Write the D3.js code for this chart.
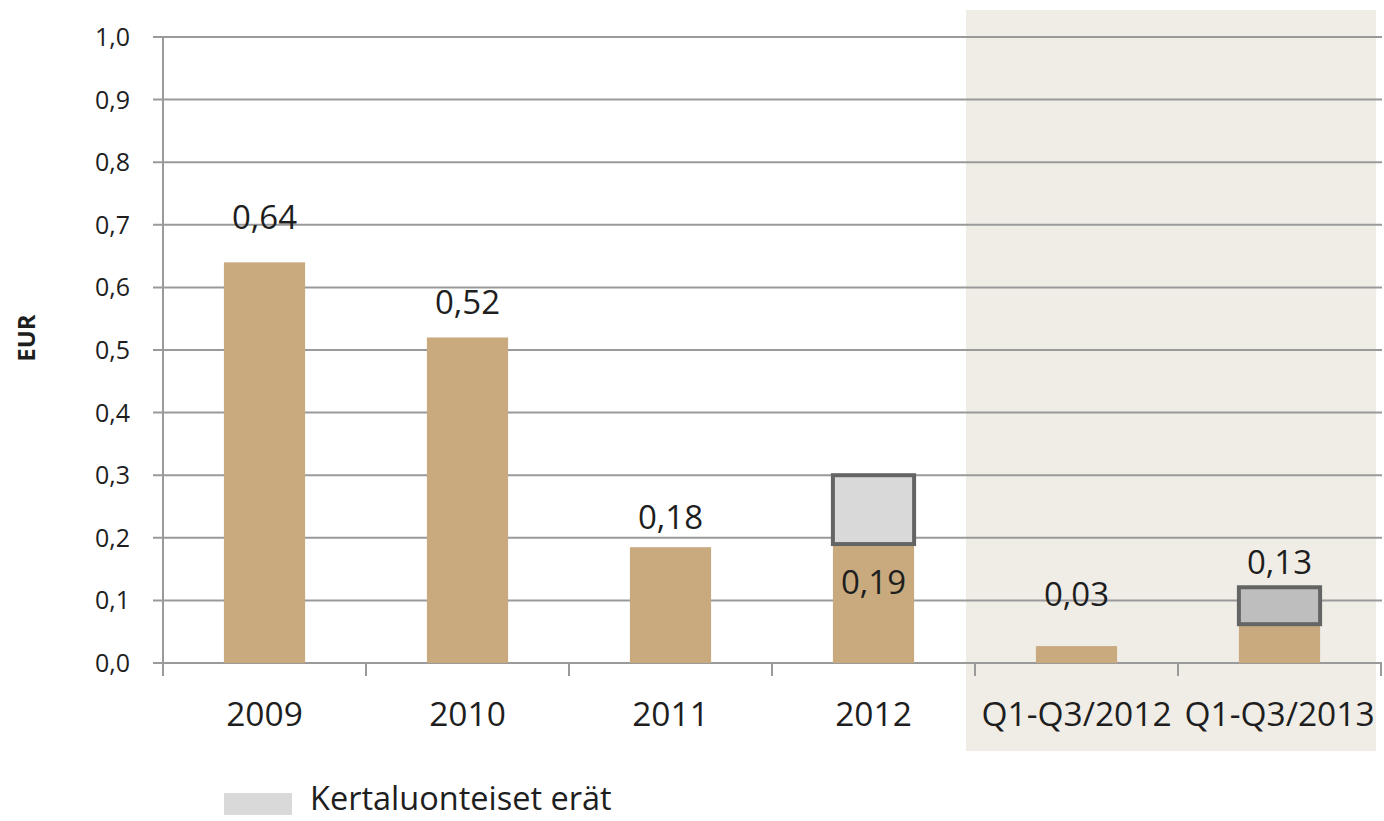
<!DOCTYPE html>
<html>
<head>
<meta charset="utf-8">
<script src="https://cdn.jsdelivr.net/npm/d3@7"></script>
<style>
  body { margin: 0; background: #fff; }
  text { font-family: "Open Sans", sans-serif; fill: #1e1e1e; }
</style>
</head>
<body>
<div id="chart"></div>
<script>
// Data
const categories = ["2009", "2010", "2011", "2012", "Q1-Q3/2012", "Q1-Q3/2013"];
const baseValues = [0.64, 0.52, 0.185, 0.19, 0.027, 0.062];
const oneOffValues = [0, 0, 0, 0.11, 0, 0.059];
const valueLabels = ["0,64", "0,52", "0,18", "0,19", "0,03", "0,13"];
const yTicks = [0, 0.1, 0.2, 0.3, 0.4, 0.5, 0.6, 0.7, 0.8, 0.9, 1.0];
const legendLabel = "Kertaluonteiset erät";

// label placement relative to bar top (px), 2012 sits inside its base bar
const labelGap = [45, 35, 30, null, 52, 25];

const width = 1384, height = 821;
const svg = d3.select("#chart").append("svg")
  .attr("width", width)
  .attr("height", height);

const x = d3.scaleBand()
  .domain(categories)
  .range([163, 1381])
  .paddingInner(0.6)
  .paddingOuter(0.3);

const y = d3.scaleLinear()
  .domain([0, 1])
  .range([663, 37]);

const step = x.step();
const boundary = (i) => x.range()[0] + i * step;

// shaded interim period background
svg.append("rect")
  .attr("x", boundary(4) - 9)
  .attr("y", 10)
  .attr("width", 1376 - (boundary(4) - 9))
  .attr("height", 741)
  .attr("fill", "#f0ede6");

// gridlines + y ticks
const yAxis = svg.append("g");
yAxis.selectAll("line.grid")
  .data(yTicks)
  .join("line")
  .attr("class", "grid")
  .attr("x1", 153)
  .attr("x2", 1382)
  .attr("y1", d => y(d))
  .attr("y2", d => y(d))
  .attr("stroke", "#9a9a9a")
  .attr("stroke-width", 2);

yAxis.selectAll("text")
  .data(yTicks)
  .join("text")
  .attr("x", 130)
  .attr("y", d => y(d))
  .attr("dy", "0.36em")
  .attr("text-anchor", "end")
  .style("font-size", "25px")
  .text(d => d3.format(".1f")(d).replace(".", ","));

// y axis line
svg.append("line")
  .attr("x1", 163).attr("x2", 163)
  .attr("y1", y(1)).attr("y2", 676)
  .attr("stroke", "#9a9a9a")
  .attr("stroke-width", 2);

// x axis ticks at category boundaries
svg.append("g").selectAll("line")
  .data(d3.range(categories.length + 1))
  .join("line")
  .attr("x1", d => boundary(d))
  .attr("x2", d => boundary(d))
  .attr("y1", y(0))
  .attr("y2", 676)
  .attr("stroke", "#9a9a9a")
  .attr("stroke-width", 2);

// base bars
svg.append("g").selectAll("rect")
  .data(categories)
  .join("rect")
  .attr("x", d => x(d))
  .attr("width", x.bandwidth())
  .attr("y", (d, i) => y(baseValues[i]))
  .attr("height", (d, i) => y(0) - y(baseValues[i]))
  .attr("fill", "#c8aa7e");

// one-off items stacked on top
const oneOffFill = ["#d9d9d9", "#d9d9d9", "#d9d9d9", "#d9d9d9", "#d9d9d9", "#bebebe"];
svg.append("g").selectAll("rect")
  .data(categories.filter((d, i) => oneOffValues[i] > 0))
  .join("rect")
  .attr("x", d => x(d))
  .attr("width", x.bandwidth())
  .attr("y", d => { const i = categories.indexOf(d); return y(baseValues[i] + oneOffValues[i]); })
  .attr("height", d => { const i = categories.indexOf(d); return y(baseValues[i]) - y(baseValues[i] + oneOffValues[i]); })
  .attr("fill", d => oneOffFill[categories.indexOf(d)])
  .attr("stroke", "#646464")
  .attr("stroke-width", 4);

// value labels
svg.append("g").selectAll("text")
  .data(categories)
  .join("text")
  .attr("x", d => x(d) + x.bandwidth() / 2)
  .attr("y", (d, i) => {
    if (labelGap[i] === null) return y(baseValues[i]) + 38;
    return y(baseValues[i] + oneOffValues[i]) - labelGap[i];
  })
  .attr("dy", "0.36em")
  .attr("text-anchor", "middle")
  .style("font-size", "33px")
  .text((d, i) => valueLabels[i]);

// category labels
svg.append("g").selectAll("text")
  .data(categories)
  .join("text")
  .attr("x", d => x(d) + x.bandwidth() / 2)
  .attr("y", 714)
  .attr("dy", "0.36em")
  .attr("text-anchor", "middle")
  .style("font-size", "33.5px")
  .text(d => d);

// y axis title
svg.append("text")
  .attr("transform", "translate(26,338) rotate(-90)")
  .attr("text-anchor", "middle")
  .attr("dy", "0.36em")
  .style("font-size", "24px")
  .style("font-weight", "bold")
  .text("EUR");

// legend
svg.append("rect")
  .attr("x", 224).attr("y", 793)
  .attr("width", 68).attr("height", 22)
  .attr("fill", "#d9d9d9");
svg.append("text")
  .attr("x", 310).attr("y", 798)
  .attr("dy", "0.36em")
  .style("font-size", "32.5px")
  .text(legendLabel);
</script>
</body>
</html>
